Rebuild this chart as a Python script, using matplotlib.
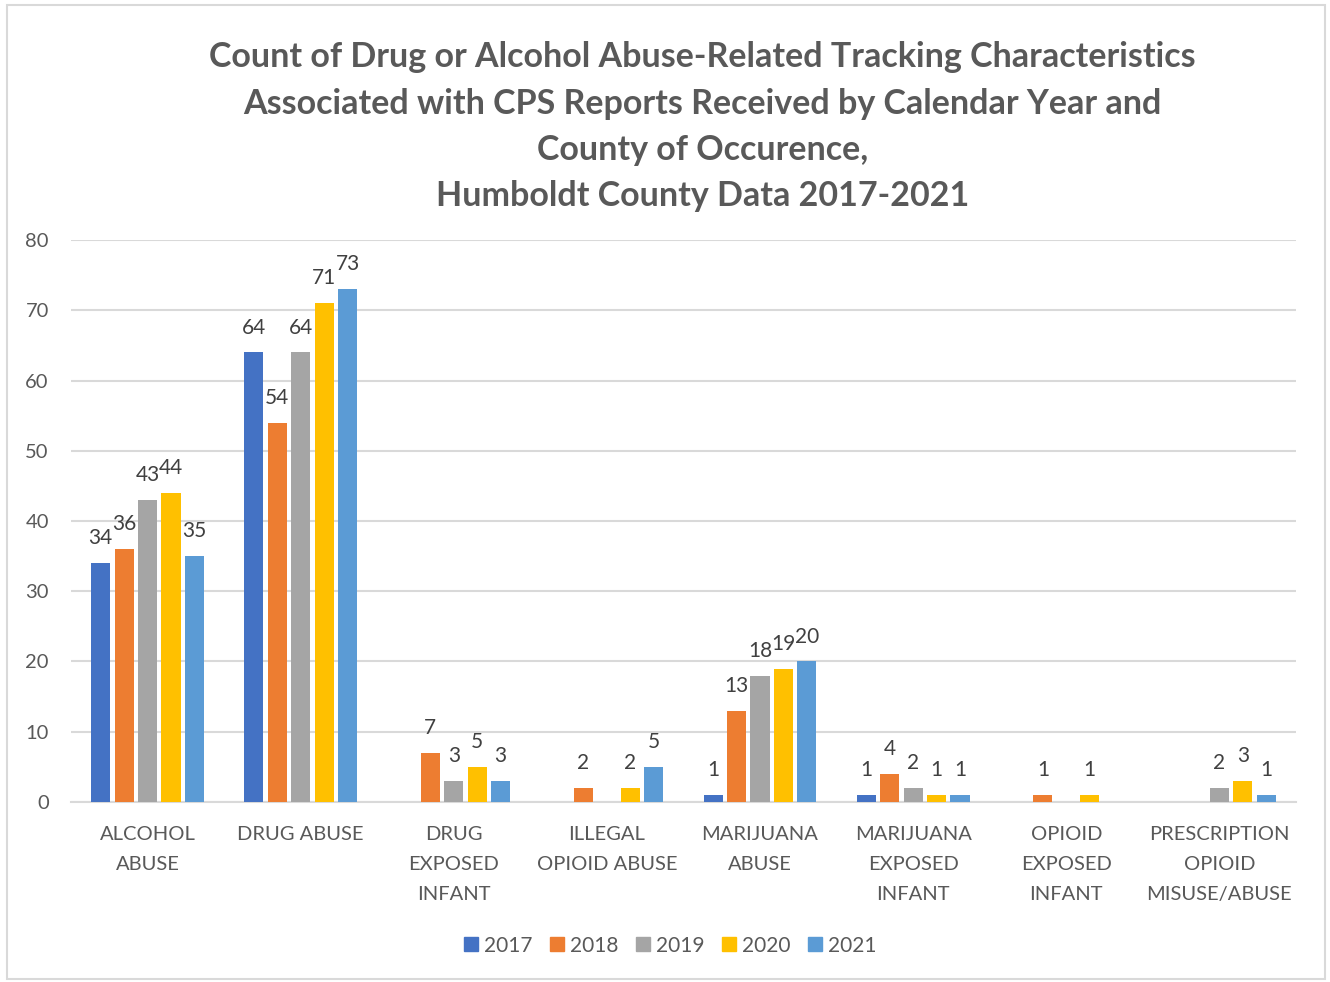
import matplotlib.pyplot as plt
import matplotlib.patches as mpatches
import numpy as np

plt.rcParams['font.family'] = ['Lato', 'DejaVu Sans']

categories = ["ALCOHOL\nABUSE", "DRUG ABUSE", "DRUG\nEXPOSED\nINFANT",
              "ILLEGAL\nOPIOID ABUSE", "MARIJUANA\nABUSE", "MARIJUANA\nEXPOSED\nINFANT",
              "OPIOID\nEXPOSED\nINFANT", "PRESCRIPTION\nOPIOID\nMISUSE/ABUSE"]
years = ["2017", "2018", "2019", "2020", "2021"]
nan = np.nan
counts = {
    "2017": [34, 64, nan, nan, 1, 1, nan, nan],
    "2018": [36, 54, 7, 2, 13, 4, 1, nan],
    "2019": [43, 64, 3, nan, 18, 2, nan, 2],
    "2020": [44, 71, 5, 2, 19, 1, 1, 3],
    "2021": [35, 73, 3, 5, 20, 1, nan, 1],
}
colors = ["#4472C4", "#ED7D31", "#A5A5A5", "#FFC000", "#5B9BD5"]

title = ("Count of Drug or Alcohol Abuse-Related Tracking Characteristics\n"
         "Associated with CPS Reports Received by Calendar Year and\n"
         "County of Occurence,\n"
         "Humboldt County Data 2017-2021")

fig = plt.figure(figsize=(13.3, 9.82), dpi=100)
ax = fig.add_axes([0.0534, 0.1833, 0.921, 0.5723])

x = np.arange(len(categories))
step = 0.153
width = 0.125
for i, yr in enumerate(years):
    vals = np.array(counts[yr], dtype=float)
    pos = x + (i - 2) * step
    ax.bar(pos, np.nan_to_num(vals), width, color=colors[i], label=yr, zorder=3)
    for p, v in zip(pos, vals):
        if not np.isnan(v):
            ax.text(p, v + 2.1, f"{int(v)}", ha="center", va="bottom",
                    fontsize=15, color="#404040")

ax.set_xlim(-0.5, len(categories) - 0.5)
ax.set_ylim(0, 80)
ax.set_yticks(range(0, 81, 10))
ax.yaxis.grid(True, color="#d9d9d9", linewidth=1.5, zorder=0)
for s in ["top", "right", "left"]:
    ax.spines[s].set_visible(False)
ax.spines["bottom"].set_color("#d9d9d9")
ax.spines["bottom"].set_linewidth(1.5)
ax.tick_params(length=0, labelsize=14.5, colors="#595959")
ax.tick_params(axis="y", pad=16)
ax.set_xticks(x)
ax.set_xticklabels(categories, linespacing=1.93, va="top")
ax.tick_params(axis="x", pad=17)

fig.text(0.528, 0.958, title, ha="center", va="top", fontsize=24.5, fontweight="bold",
         color="#595959", linespacing=1.55)

handles = [mpatches.Patch(color=c, label=y) for c, y in zip(colors, years)]
fig.legend(handles=handles, loc="center", bbox_to_anchor=(0.504, 0.037), ncol=5,
           frameon=False, fontsize=15, handlelength=0.65, handleheight=0.65,
           handletextpad=0.3, columnspacing=0.85, labelcolor="#595959")

fig.patches.append(mpatches.Rectangle((0.005, 0.003), 0.991, 0.992, transform=fig.transFigure,
                                      fill=False, edgecolor="#d9d9d9", linewidth=1.5))

fig.savefig("out.png", dpi=100)
